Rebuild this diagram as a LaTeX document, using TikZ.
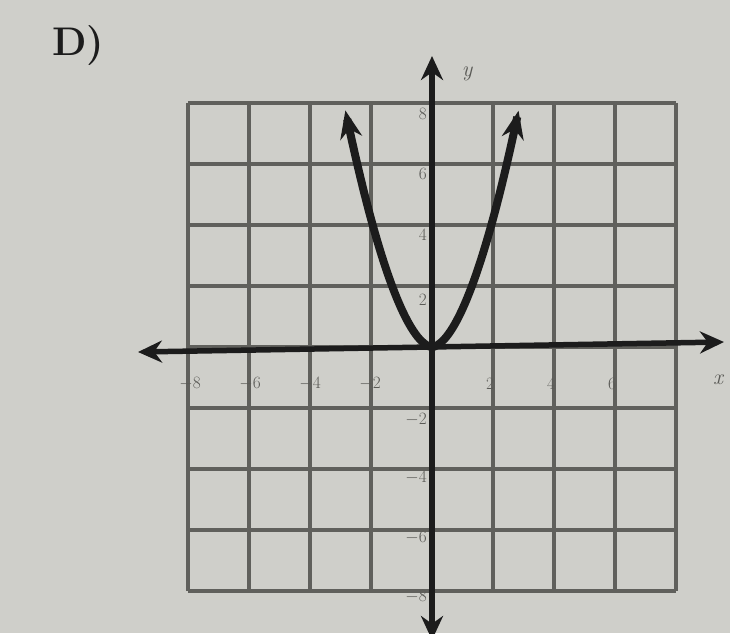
\documentclass[tikz,border=0pt]{standalone}
\usetikzlibrary{arrows.meta}
\definecolor{paper}{RGB}{207,207,202}
\definecolor{gridc}{RGB}{96,96,92}
\definecolor{ink}{RGB}{28,28,28}
\definecolor{lbl}{RGB}{90,90,86}
\begin{document}
\begin{tikzpicture}[x=1pt,y=-1pt,
  gridline/.style={draw=gridc,line width=3.3pt},
  axisline/.style={draw=ink,line width=5.5pt,{Stealth[length=24pt,width=22pt]}-{Stealth[length=24pt,width=22pt]}},
  curve/.style={draw=ink,line width=8pt,{Stealth[length=28pt,width=22pt]}-{Stealth[length=28pt,width=22pt]}},
  ticklbl/.style={text=lbl,font=\fontsize{17}{18}\selectfont,inner sep=0pt},
  axlbl/.style={text=lbl,font=\fontsize{22}{24}\selectfont\itshape,inner sep=0pt}]
\fill[paper] (0,0) rectangle (730,633);
\useasboundingbox (0,0) rectangle (730,633);
% grid
\foreach \i in {-4,...,4} {
  \draw[gridline] ({432+61*\i},103) -- ({432+61*\i},591);
  \draw[gridline] (188,{347+61*\i}) -- (676,{347+61*\i});
}
% axes
\coordinate (xl) at (138,352);
\coordinate (xr) at (724,342);
\coordinate (yt) at (432,56);
\coordinate (yb) at (432,640);
\draw[axisline] (xl) -- (xr);
\draw[axisline] (yt) -- (yb);
\node[axlbl] (ylab) at (467,74) {y};
\node[axlbl] (xlab) at (718,380) {x};
% tick labels x
\foreach \v/\px in {-8/190,-6/250,-4/310,-2/370,2/490,4/551,6/612}
  \node[ticklbl] (xt\v) at (\px,384) {$\v$};
% tick labels y
\foreach \v/\py in {8/114,6/174,4/235,2/300,-2/420,-4/478,-6/538,-8/597}
  \node[ticklbl,anchor=east] (yt\v) at (427,\py) {$\v$};
% curve
\draw[curve,samples=80,domain=-1.42:1.42,smooth]
  plot ({432+61*\x},{347-128.1*pow(abs(\x)+0.0001,1.75)});
% title
\node[font=\fontsize{40}{44}\selectfont\bfseries,text=ink,inner sep=0pt] (title) at (78,46) {D)};
\end{tikzpicture}
\end{document}
